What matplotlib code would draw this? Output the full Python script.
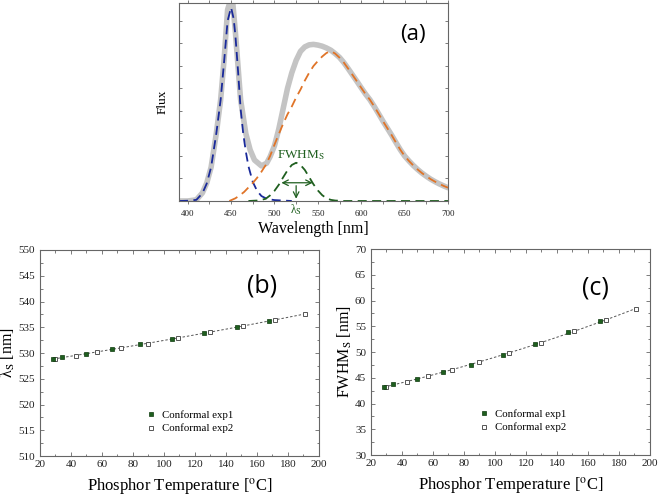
import numpy as np
import matplotlib
matplotlib.use('Agg')
import matplotlib.pyplot as plt
from matplotlib.ticker import MultipleLocator, NullFormatter

plt.rcParams['font.family'] = ['Liberation Serif', 'DejaVu Serif']
plt.rcParams['mathtext.fontset'] = 'stix'

# ---- panel (a): spectra ----
wl_total = [390, 400, 410, 417, 422, 427, 433, 438, 442, 446, 450, 452, 455, 458, 461,
            467, 472, 477, 485, 491, 495, 500, 505, 510, 515, 520, 525, 530, 535, 540,
            545, 550, 555, 560, 565, 570, 575, 580, 585, 590, 595, 600, 605, 610, 615,
            620, 625, 630, 635, 640, 645, 650, 655, 660, 665, 670, 675, 680, 685, 690,
            695, 700]
flux_total = [0.0, 0.0, 0.05, 0.36, 0.8, 1.5, 3.0, 4.5, 6.3, 8.5, 9.0, 8.8, 7.5, 6.0, 4.5,
              3.0, 2.27, 1.82, 1.56, 1.68, 1.97, 2.45, 3.2, 4.1, 5.0, 5.7, 6.25, 6.65, 6.85, 6.94,
              6.96, 6.93, 6.88, 6.8, 6.7, 6.55, 6.38, 6.15, 5.88, 5.6, 5.32, 5.03, 4.75, 4.5, 4.2,
              3.88, 3.55, 3.24, 2.93, 2.6, 2.28, 2.0, 1.78, 1.58, 1.4, 1.24, 1.1, 0.97, 0.86, 0.76,
              0.67, 0.59]

wl_blue = [390, 400, 410, 417, 422, 427, 433, 438, 442, 446, 450, 453, 455, 458, 461, 464,
           467, 470, 475, 480, 485, 490, 495, 500, 510, 520]
flux_blue = [0.0, 0.01, 0.05, 0.34, 0.78, 1.5, 3.0, 4.5, 6.2, 8.0, 8.6, 8.1, 7.35, 5.8, 4.1, 3.0,
             2.2, 1.55, 0.85, 0.45, 0.22, 0.12, 0.07, 0.04, 0.02, 0.0]

wl_orange = [448, 455, 460, 465, 470, 475, 480, 485, 490, 495, 500, 505, 510, 515, 520, 525,
             530, 535, 540, 545, 550, 555, 560, 565, 570, 575, 580, 585, 590, 595, 600, 605,
             610, 615, 620, 625, 630, 635, 640, 645, 650, 655, 660, 665, 670, 675, 680, 685,
             690, 695, 700]
flux_orange = [0.0, 0.12, 0.25, 0.4, 0.6, 0.8, 1.03, 1.3, 1.6, 2.0, 2.5, 2.97, 3.43, 3.85, 4.2, 4.6,
               4.95, 5.35, 5.7, 6.0, 6.22, 6.42, 6.58, 6.66, 6.55, 6.37, 6.15, 5.88, 5.6, 5.32, 5.03, 4.75,
               4.5, 4.2, 3.88, 3.55, 3.24, 2.93, 2.6, 2.28, 2.0, 1.78, 1.58, 1.4, 1.24, 1.1, 0.97, 0.86,
               0.76, 0.67, 0.59]

wl_green = [470, 480, 485, 490, 495, 500, 505, 510, 515, 520, 525, 530, 535, 540, 545, 550,
            555, 560, 565, 570, 580, 700]
flux_green = [0.0, 0.02, 0.05, 0.1, 0.25, 0.45, 0.72, 1.05, 1.36, 1.6, 1.7, 1.6, 1.38, 1.06, 0.74, 0.47,
              0.26, 0.12, 0.05, 0.02, 0.0, 0.0]

fwhm_range = [508, 544]
fwhm_level = 0.81
peak_wl = 525

# ---- panels (b), (c) ----
temp_exp1 = [28.5, 34.5, 50, 66.5, 84.5, 105, 125.5, 147, 168]
temp_exp2 = [30, 43, 57, 72.5, 89.5, 109, 130, 151, 171.5, 191]
lam_exp1 = [528.8, 529.2, 529.9, 530.7, 531.7, 532.8, 533.8, 535.1, 536.3]
lam_exp2 = [528.9, 529.5, 530.2, 531.0, 531.8, 532.9, 534.0, 535.2, 536.5, 537.5]
fwhm_exp1 = [43.3, 43.7, 44.8, 46.1, 47.5, 49.5, 51.5, 53.8, 56.0]
fwhm_exp2 = [43.3, 44.2, 45.3, 46.5, 48.0, 49.8, 51.8, 54.0, 56.2, 58.3]

frame_col = '#666666'
green = '#1f5f1f'

fig = plt.figure(figsize=(6.6, 4.98), dpi=100)

# ---- (a) ----
axa = fig.add_axes([0.2712, 0.5964, 0.4076, 0.3976])
axa.plot(wl_total, flux_total, color='#c4c4c4', lw=4.0, solid_capstyle='round', zorder=1)
axa.plot(wl_blue, flux_blue, color='#1a2a9a', lw=1.3, dashes=(5, 3), zorder=2)
axa.plot(wl_orange, flux_orange, color='#e07428', lw=1.3, dashes=(5, 3), zorder=2)
axa.plot(wl_green, flux_green, color=green, lw=1.3, dashes=(5, 3), zorder=2)
axa.annotate('', xy=(fwhm_range[0], fwhm_level), xytext=(fwhm_range[1], fwhm_level),
             arrowprops=dict(arrowstyle='<->', color=green, lw=0.9, shrinkA=0, shrinkB=0))
axa.annotate('', xy=(peak_wl, 0.1), xytext=(peak_wl, 0.68),
             arrowprops=dict(arrowstyle='->', color=green, lw=0.9, shrinkA=0, shrinkB=0))
axa.text(531, 2.05, 'FWHM$_\\mathrm{S}$', color=green, fontsize=9.5, ha='center', va='center')
axa.text(peak_wl, -0.05, 'λ$_\\mathrm{S}$', color=green, fontsize=8.5, ha='center', va='top')
axa.text(0.87, 0.84, '(a)', transform=axa.transAxes, fontsize=16, ha='center', va='center',
         family=['Open Sans', 'DejaVu Sans'])
axa.set_xlim(390, 700)
axa.set_ylim(0, 8.8)
axa.xaxis.set_major_locator(MultipleLocator(50))
axa.xaxis.set_minor_locator(MultipleLocator(25))
axa.yaxis.set_major_locator(MultipleLocator(1))
axa.yaxis.set_major_formatter(NullFormatter())
for s in axa.spines.values():
    s.set_color(frame_col)
    s.set_linewidth(0.8)
axa.tick_params(which='both', colors=frame_col, labelcolor='#222222', labelsize=6.5, width=0.6,
                top=True, right=True, direction='in', length=2.5)
axa.tick_params(axis='x', which='both', bottom=True, direction='out', pad=4)
axa.set_xlabel('Wavelength [nm]', fontsize=11.5, labelpad=2)
axa.set_ylabel('Flux', fontsize=9.5, labelpad=4)


def temp_panel(rect, t1, y1, t2, y2, ylim, ylabel, tag, tag_xy, leg_xy):
    ax = fig.add_axes(rect)
    t_all = np.array(t1 + t2)
    y_all = np.array(y1 + y2)
    coef = np.polyfit(t_all, y_all, 2)
    tt = np.linspace(t_all.min(), t_all.max(), 100)
    ax.plot(tt, np.polyval(coef, tt), color='#555555', lw=0.7, dashes=(2.5, 2), zorder=1)
    ax.plot(t1, y1, 's', ms=3.2, mfc=green, mec='#0e3a0e', mew=0.5, ls='none',
            label='Conformal exp1', zorder=3)
    ax.plot(t2, y2, 's', ms=3.2, mfc='white', mec='#555555', mew=0.7, ls='none',
            label='Conformal exp2', zorder=2)
    ax.set_xlim(20, 200)
    ax.set_ylim(*ylim)
    ax.xaxis.set_major_locator(MultipleLocator(20))
    ax.xaxis.set_minor_locator(MultipleLocator(10))
    ax.yaxis.set_major_locator(MultipleLocator(5))
    ax.yaxis.set_minor_locator(MultipleLocator(2.5))
    for s in ax.spines.values():
        s.set_color(frame_col)
        s.set_linewidth(0.8)
    ax.tick_params(which='both', colors=frame_col, labelcolor='#222222', labelsize=8, width=0.6,
                   top=True, right=True, direction='in')
    ax.tick_params(which='major', length=3)
    ax.tick_params(which='minor', length=1.8)
    ax.tick_params(axis='x', which='both', pad=3)
    ax.set_xlabel('Phosphor Temperature [$^\\mathrm{o}$C]', fontsize=12, labelpad=5)
    ax.set_ylabel(ylabel, fontsize=11.5, labelpad=1)
    ax.text(tag_xy[0], tag_xy[1], tag, transform=ax.transAxes, fontsize=18, ha='center',
            va='center', family=['Open Sans', 'DejaVu Sans'])
    ax.legend(loc='center left', bbox_to_anchor=leg_xy, frameon=False, fontsize=7.8,
              handlelength=0.8, handletextpad=0.6, labelspacing=0.35, borderaxespad=0)
    return ax


temp_panel([0.0606, 0.0843, 0.4227, 0.4137], temp_exp1, lam_exp1, temp_exp2, lam_exp2,
           (510, 550), 'λ$_\\mathrm{S}$ [nm]', '(b)', (0.795, 0.825), (0.367, 0.166))
temp_panel([0.5621, 0.0863, 0.4227, 0.4137], temp_exp1, fwhm_exp1, temp_exp2, fwhm_exp2,
           (30, 70), 'FWHM$_\\mathrm{S}$ [nm]', '(c)', (0.805, 0.81), (0.374, 0.166))

fig.savefig('out.png', dpi=100)
